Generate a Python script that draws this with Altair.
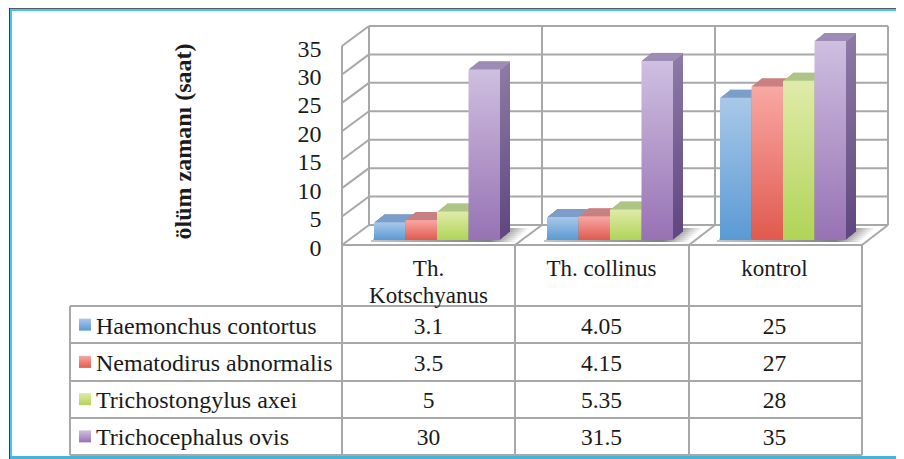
import altair as alt
import pandas as pd

categories = ["Th.\nKotschyanus", "Th. collinus", "kontrol"]
series = ["Haemonchus contortus", "Nematodirus abnormalis", "Trichostongylus axei", "Trichocephalus ovis"]
haemonchus = [3.1, 4.05, 25]
nematodirus = [3.5, 4.15, 27]
trichostongylus = [5, 5.35, 28]
trichocephalus = [30, 31.5, 35]
y_ticks = [0, 5, 10, 15, 20, 25, 30, 35]

front_top = ["#a9c8e9", "#f8a8a4", "#e0eba9", "#cfbfe0"]
front_bot = ["#5a9ad4", "#e05a4e", "#b0d457", "#9772b4"]
side_top = ["#7e9ac0", "#c08080", "#a8bd80", "#8d7aa6"]
side_bot = ["#3f6fa5", "#a8443c", "#7f9e40", "#5f477f"]
top_col = ["#7c9fcb", "#cb8080", "#afc788", "#a291ba"]

# group layout on the category axis, in category units
GROUP_START = 32 / 173
SLOT = 31.5 / 173

rows = []
for j, (s, vals) in enumerate(zip(series, [haemonchus, nematodirus, trichostongylus, trichocephalus])):
    for g, v in enumerate(vals):
        rows.append({"series": s, "cat": categories[g], "value": v, "zero": 0,
                     "center": g + 0.5,
                     "x0": g + GROUP_START + j * SLOT,
                     "x1": g + GROUP_START + (j + 1) * SLOT})
df = pd.DataFrame(rows)
tick_df = pd.DataFrame({"tick": y_ticks})
cat_df = pd.DataFrame({"cat": categories, "center": [0.5, 1.5, 2.5]})
ser_df = pd.DataFrame({"series": series})
one = pd.DataFrame({"a": [0]})

GREY = "#a8a8a8"
INK = "#1a1a1a"
FONT = "Liberation Serif"
def P(v):
    return v - 8

def grad(c1, c2):
    return alt.Gradient(gradient="linear",
                        stops=[alt.GradientStop(color=c1, offset=0), alt.GradientStop(color=c2, offset=1)],
                        x1=0, y1=0, x2=0, y2=1)

y_scale = alt.Scale(domain=[0, 35], range=[P(245), P(46)])
x_scale = alt.Scale(domain=[0, 3], range=[P(342), P(861)], nice=False, zero=False)

def rule(x, x2=None, y=None, y2=None, width=2):
    enc = {"x": alt.value(P(x)), "y": alt.value(P(y))}
    if x2 is not None:
        enc["x2"] = alt.value(P(x2))
    if y2 is not None:
        enc["y2"] = alt.value(P(y2))
    return alt.Chart(one).mark_rule(color=GREY, strokeWidth=width).encode(**enc)

plot = []
# main y axis + back gridlines
plot.append(alt.Chart(tick_df).mark_rule(color=GREY, strokeWidth=2, yOffset=-20).encode(
    x=alt.value(P(369)), x2=alt.value(P(888)),
    y=alt.Y("tick:Q", scale=y_scale, title="ölüm zamanı (saat)",
            axis=alt.Axis(orient="left", offset=-P(321), domain=False, ticks=False, grid=False,
                          values=y_ticks, labelPadding=0, labelFont=FONT, labelFontSize=24,
                          labelColor=INK, labelOffset=3, title="ölüm zamanı (saat)", titleFont=FONT,
                          titleFontSize=24, titleFontWeight="bold", titleColor=INK,
                          titleX=-131, titleY=P(141), titleAngle=-90,
                          titleAlign="center", titleBaseline="alphabetic"))))
# left wall slants
plot.append(alt.Chart(tick_df).transform_calculate(back="datum.tick + 3.52").mark_rule(
    color=GREY, strokeWidth=2).encode(
    x=alt.value(P(342)), x2=alt.value(P(369)),
    y=alt.Y("tick:Q", scale=y_scale), y2="back:Q"))
# back verticals
for bx in [369, 542, 715, 888]:
    plot.append(rule(bx, y=26, y2=225))
# floor diagonals
for fx, bx in [(515, 542), (689, 715), (862, 888)]:
    plot.append(rule(fx, x2=bx, y=245, y2=225))
# front wall and floor front
plot.append(rule(342, y=46, y2=245))
plot.append(rule(342, x2=862, y=245))

# floor shadow
shadow = alt.Gradient(gradient="linear",
                      stops=[alt.GradientStop(color="#c4c4c4", offset=0),
                             alt.GradientStop(color="#7f7f7f", offset=0.82),
                             alt.GradientStop(color="#ffffff", offset=1)],
                      x1=0, y1=0, x2=1, y2=0)
for k in range(7):
    d = 2.2 * k
    plot.append(alt.Chart(cat_df).transform_calculate(
        s0=f"datum.center - 0.5 + {GROUP_START}", s1=f"datum.center - 0.5 + {GROUP_START + 4 * SLOT}"
    ).mark_rect(color=shadow, xOffset=-3 + d, x2Offset=16 + d).encode(
        x=alt.X("s0:Q", scale=x_scale, axis=None), x2="s1:Q",
        y=alt.value(P(240 - 2 * k)), y2=alt.value(P(242 - 2 * k))))

# bars with depth drawn back to front
for i, s in enumerate(series):
    base = alt.Chart(df).transform_filter(alt.datum.series == s)
    for k in range(10, 0, -1):
        plot.append(base.mark_rect(color=grad(side_top[i], side_bot[i]),
                                   xOffset=k, x2Offset=k, yOffset=-5 - 0.8 * k, y2Offset=-5 - 0.8 * k).encode(
            x=alt.X("x0:Q", scale=x_scale, axis=None), x2="x1:Q",
            y=alt.Y("value:Q", scale=y_scale), y2="zero:Q"))
        plot.append(base.transform_calculate(edge="datum.value - 0.22").mark_rect(
            color=top_col[i], xOffset=k, x2Offset=k, yOffset=-5 - 0.8 * k, y2Offset=-5 - 0.8 * k).encode(
            x=alt.X("x0:Q", scale=x_scale, axis=None), x2="x1:Q",
            y=alt.Y("value:Q", scale=y_scale), y2="edge:Q"))
    plot.append(base.mark_rect(color=grad(front_top[i], front_bot[i]),
                               yOffset=-5, y2Offset=-5).encode(
        x=alt.X("x0:Q", scale=x_scale, axis=None), x2="x1:Q",
        y=alt.Y("value:Q", scale=y_scale), y2="zero:Q"))

plot_layer = alt.layer(*plot)

# table
row_enc = alt.Y("series:N", sort=series, axis=None,
                scale=alt.Scale(domain=series, range=[P(306), P(455)], paddingInner=0, paddingOuter=0))
table = []
for y in [306, 343, 381, 418, 455]:
    table.append(rule(70, x2=862, y=y))
table.append(rule(70, y=306, y2=455))
for vx in [342, 515, 689, 862]:
    table.append(rule(vx, y=245, y2=455))
table.append(alt.Chart(cat_df).mark_text(font=FONT, fontSize=23, color=INK, lineBreak="\n",
                                         lineHeight=27, baseline="middle", align="center", dy=1).encode(
    x=alt.X("center:Q", scale=x_scale, axis=None), y=alt.value(P(268)), text="cat:N"))
table.append(alt.Chart(df).mark_text(font=FONT, fontSize=23.5, color=INK, baseline="middle",
                                     align="center", dy=2).encode(
    x=alt.X("center:Q", scale=x_scale, axis=None), y=row_enc, text="value:Q"))
table.append(alt.Chart(ser_df).mark_text(font=FONT, fontSize=24, color=INK, baseline="middle",
                                         align="left", dy=2).encode(
    x=alt.value(P(96)), y=row_enc, text="series:N"))
for i, s in enumerate(series):
    table.append(alt.Chart(ser_df).transform_filter(alt.datum.series == s).mark_square(
        size=144, opacity=1, color=grad(front_top[i], front_bot[i])).encode(
        x=alt.value(P(85)), y=row_enc))
table_layer = alt.layer(*table)

# picture frame
def frame(color, x, x2, y, y2):
    return alt.Chart(one).mark_rect(color=color).encode(
        x=alt.value(P(x)), x2=alt.value(P(x2)), y=alt.value(P(y)), y2=alt.value(P(y2)))

frame_layer = alt.layer(
    frame("#5a5a5a", 9, 904, 8, 9),
    frame("#45c6ea", 10, 904, 9, 11),
    frame("#3a3a3a", 9, 10, 8, 459),
    frame("#45c6ea", 10, 12, 9, 459),
    frame("#45b4d8", 10, 904, 456, 459),
)

chart = alt.layer(frame_layer, plot_layer, table_layer).resolve_scale(y="independent").properties(
    width=888, height=451, padding=0,
    autosize=alt.AutoSizeParams(type="none", contains="padding"),
    background="white",
).configure_view(stroke=None)

chart.save("out.html", embed_options={"renderer": "svg", "actions": False})
